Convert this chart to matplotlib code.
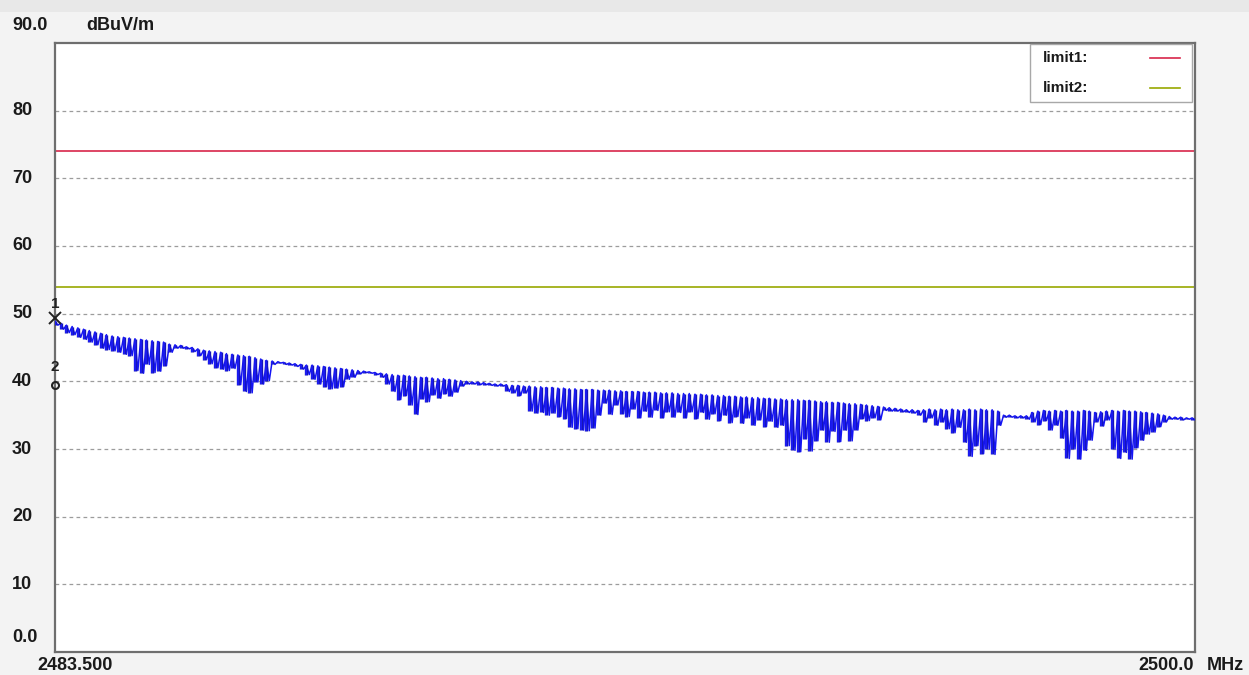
import numpy as np
import matplotlib
matplotlib.use("Agg")
import matplotlib.pyplot as plt
import matplotlib.transforms as mtransforms
import matplotlib.patheffects as pe
from matplotlib.patches import Rectangle

# ---------------- data ----------------
f_start_mhz = 2483.5
f_stop_mhz = 2500.0
y_min, y_max = 0.0, 90.0

limit1_level = 74.0
limit2_level = 54.0

# spectrum sweep: peak (top) and trough (bottom) of each sweep stripe, dBuV/m
trace_top = [
    48.9, 48.6, 48.3, 48.1, 47.9, 47.7, 47.5, 47.3, 47.1, 46.9,
    46.7, 46.6, 46.5, 46.4, 46.3, 46.2, 46.1, 46.0, 45.9, 45.8,
    45.5, 45.4, 45.3, 45.1, 45.0, 44.8, 44.6, 44.5, 44.4, 44.3,
    44.1, 44.0, 43.9, 43.8, 43.7, 43.5, 43.3, 43.1, 43.0, 42.9,
    42.8, 42.7, 42.6, 42.5, 42.4, 42.4, 42.3, 42.2, 42.1, 42.0,
    41.9, 41.8, 41.7, 41.6, 41.5, 41.4, 41.3, 41.2, 41.1, 41.0,
    40.9, 40.9, 40.8, 40.7, 40.6, 40.6, 40.5, 40.4, 40.4, 40.3,
    40.2, 40.1, 40.0, 39.9, 39.9, 39.8, 39.7, 39.6, 39.6, 39.5,
    39.4, 39.4, 39.3, 39.3, 39.2, 39.2, 39.1, 39.1, 39.0, 39.0,
    38.9, 38.9, 38.8, 38.8, 38.8, 38.7, 38.7, 38.7, 38.6, 38.6,
    38.5, 38.5, 38.5, 38.4, 38.4, 38.4, 38.3, 38.3, 38.3, 38.2,
    38.2, 38.2, 38.1, 38.1, 38.0, 38.0, 37.9, 37.9, 37.8, 37.8,
    37.7, 37.7, 37.6, 37.6, 37.5, 37.5, 37.4, 37.4, 37.3, 37.3,
    37.3, 37.2, 37.2, 37.1, 37.0, 37.0, 36.9, 36.9, 36.8, 36.7,
    36.7, 36.6, 36.5, 36.4, 36.3, 36.2, 36.1, 36.0, 35.9, 35.8,
    35.8, 35.7, 35.8, 35.9, 35.8, 35.9, 35.8, 35.9, 35.8, 35.8,
    35.9, 35.8, 35.9, 35.8, 35.8, 35.6, 35.0, 35.0, 34.9, 34.9,
    34.9, 35.4, 35.6, 35.7, 35.6, 35.7, 35.6, 35.7, 35.6, 35.6,
    35.7, 35.6, 35.4, 35.5, 35.6, 35.7, 35.6, 35.7, 35.6, 35.6,
    35.5, 35.4, 35.3, 35.2, 35.0, 34.8, 34.7, 34.7, 34.6, 34.6,
]
trace_bottom = [
    48.3, 47.7, 47.2, 46.9, 46.5, 46.2, 45.8, 45.4, 44.9, 44.7,
    44.5, 44.3, 44.0, 43.8, 41.6, 41.2, 42.5, 41.3, 41.5, 42.3,
    44.3, 44.9, 44.9, 44.8, 44.4, 43.8, 43.2, 42.6, 42.0, 41.8,
    41.6, 41.9, 39.5, 38.5, 38.3, 39.9, 39.6, 40.1, 42.5, 42.7,
    42.5, 42.4, 42.2, 41.8, 41.0, 40.3, 39.6, 39.2, 38.9, 39.0,
    39.2, 40.3, 40.6, 41.1, 41.3, 41.2, 41.0, 40.6, 39.6, 38.5,
    37.3, 37.9, 36.5, 35.1, 37.4, 37.0, 38.0, 37.5, 38.2, 37.8,
    38.4, 39.3, 39.6, 39.6, 39.5, 39.5, 39.4, 39.3, 39.3, 38.5,
    38.3, 37.9, 38.3, 35.6, 35.3, 35.4, 35.0, 35.3, 34.8, 34.5,
    33.2, 33.0, 32.8, 32.7, 33.1, 35.0, 36.8, 35.1, 36.5, 35.2,
    34.8, 35.9, 34.6, 35.6, 34.7, 35.7, 34.6, 35.5, 34.7, 35.4,
    34.6, 35.5, 34.5, 35.4, 34.4, 35.2, 34.2, 35.0, 33.9, 34.8,
    33.8, 34.6, 33.5, 34.3, 33.3, 34.1, 33.2, 33.5, 30.5, 29.8,
    29.6, 31.5, 29.7, 31.2, 32.8, 31.0, 32.6, 31.1, 32.8, 31.2,
    32.8, 34.5, 34.2, 34.6, 34.3, 35.7, 35.6, 35.6, 35.5, 35.4,
    35.3, 35.0, 34.0, 34.6, 33.5, 34.0, 33.0, 32.4, 33.2, 31.0,
    28.9, 30.5, 29.3, 30.0, 29.2, 33.5, 34.7, 34.7, 34.6, 34.6,
    34.4, 34.0, 33.6, 34.2, 32.8, 33.5, 31.6, 28.6, 30.0, 28.5,
    29.8, 31.3, 34.0, 33.4, 34.3, 30.0, 28.6, 29.5, 28.5, 30.2,
    31.3, 32.2, 32.5, 33.3, 34.0, 34.4, 34.4, 34.3, 34.4, 34.3,
]

marker1_level = 49.3
marker2_level = 39.5

ytick_values = [0, 10, 20, 30, 40, 50, 60, 70, 80, 90]
ytick_labels = ["0.0", "10", "20", "30", "40", "50", "60", "70", "80", "90.0"]
grid_values = [10, 20, 30, 40, 50, 60, 70, 80]

# ---------------- figure ----------------
W, H = 1249, 675
fig = plt.figure(figsize=(W / 100, H / 100), dpi=100, facecolor="#f3f3f3")
fig.patches.append(Rectangle((0, 1 - 12 / H), 1, 12 / H, transform=fig.transFigure,
                             facecolor="#e8e8e8", edgecolor="none", zorder=0))

L, R, T, B = 55, 1195, 43, 652
ax = fig.add_axes([L / W, 1 - B / H, (R - L) / W, (B - T) / H])
ax.set_facecolor("white")
ax.set_xlim(f_start_mhz, f_stop_mhz)
ax.set_ylim(y_min, y_max)
ax.set_xticks([])
ax.set_yticks([])
for s in ax.spines.values():
    s.set_color("#6e6e6e")
    s.set_linewidth(1.6)

for g in grid_values:
    ax.axhline(g, color="#9c9c9c", lw=0.9, ls=(0, (3, 2.6)), zorder=1)

ax.axhline(limit1_level, color="#d8264a", lw=1.2, zorder=2)
ax.axhline(limit2_level, color="#98a800", lw=1.2, zorder=2)

n = len(trace_top)
level = np.empty(2 * n)
level[0::2] = trace_top
level[1::2] = trace_bottom
freq = np.linspace(f_start_mhz, f_stop_mhz, 2 * n)
stripe_f = freq[0::2]

# connecting trace
ax.plot(freq, level, color="#1414f5", lw=1.1, zorder=3)
# sweep stripes
stripes = ax.vlines(stripe_f, trace_bottom, trace_top, colors="#1e1eff", lw=1.1, zorder=4)
stripes.set_path_effects([pe.Stroke(linewidth=2.4, foreground="#1515b8"), pe.Normal()])

# markers
ax.plot([f_start_mhz], [marker1_level], marker="x", color="#222222", ms=8, mew=1.4,
        clip_on=False, zorder=5)
ax.plot([f_start_mhz], [marker2_level], marker="o", mfc="none", mec="#222222", ms=5,
        mew=1.5, clip_on=False, zorder=5)
ax.text(f_start_mhz, 51.4, "1", ha="center", va="center", fontsize=11,
        fontweight="bold", family="Liberation Sans", color="#222222", zorder=5)
ax.text(f_start_mhz, 42.1, "2", ha="center", va="center", fontsize=11,
        fontweight="bold", family="Liberation Sans", color="#222222", zorder=5)

# y labels (left-aligned at x = 12 px)
ytrans = mtransforms.blended_transform_factory(fig.transFigure, ax.transData)
font = dict(fontsize=13, fontweight="bold", family="Liberation Sans", color="#1a1a1a")
for v, lab in zip(ytick_values, ytick_labels):
    tr = ytrans
    if lab == "90.0":
        tr = mtransforms.offset_copy(ytrans, fig=fig, x=0, y=18, units="dots")
    elif lab == "0.0":
        tr = mtransforms.offset_copy(ytrans, fig=fig, x=0, y=14, units="dots")
    ax.text(12 / W, v, lab, transform=tr, ha="left", va="center", **font)

fig.text(86 / W, 1 - 25 / H, "dBuV/m", ha="left", va="center", **font)
fig.text(37 / W, 1 - 666 / H, "2483.500", ha="left", va="center", **font)
fig.text(1194 / W, 1 - 666 / H, "2500.0", ha="right", va="center", **font)
fig.text(1207 / W, 1 - 666 / H, "MHz", ha="left", va="center", **font)

# legend box
def axfx(px):
    return (px - L) / (R - L)

def axfy(py):
    return 1 - (py - T) / (B - T)

ax.add_patch(Rectangle((axfx(1030), axfy(102)), axfx(1192) - axfx(1030),
                       axfy(44) - axfy(102), transform=ax.transAxes,
                       facecolor="white", edgecolor="#a8a8a8", lw=1.0, zorder=6))
lfont = dict(fontsize=11, fontweight="bold", family="Liberation Sans", color="#1a1a1a")
ax.text(axfx(1043), axfy(58), "limit1:", transform=ax.transAxes, ha="left",
        va="center", zorder=7, **lfont)
ax.text(axfx(1043), axfy(88), "limit2:", transform=ax.transAxes, ha="left",
        va="center", zorder=7, **lfont)
ax.plot([axfx(1150), axfx(1180)], [axfy(58), axfy(58)], transform=ax.transAxes,
        color="#d8264a", lw=1.2, zorder=7)
ax.plot([axfx(1150), axfx(1180)], [axfy(88), axfy(88)], transform=ax.transAxes,
        color="#98a800", lw=1.2, zorder=7)

fig.savefig("out.png", dpi=100, facecolor=fig.get_facecolor())
